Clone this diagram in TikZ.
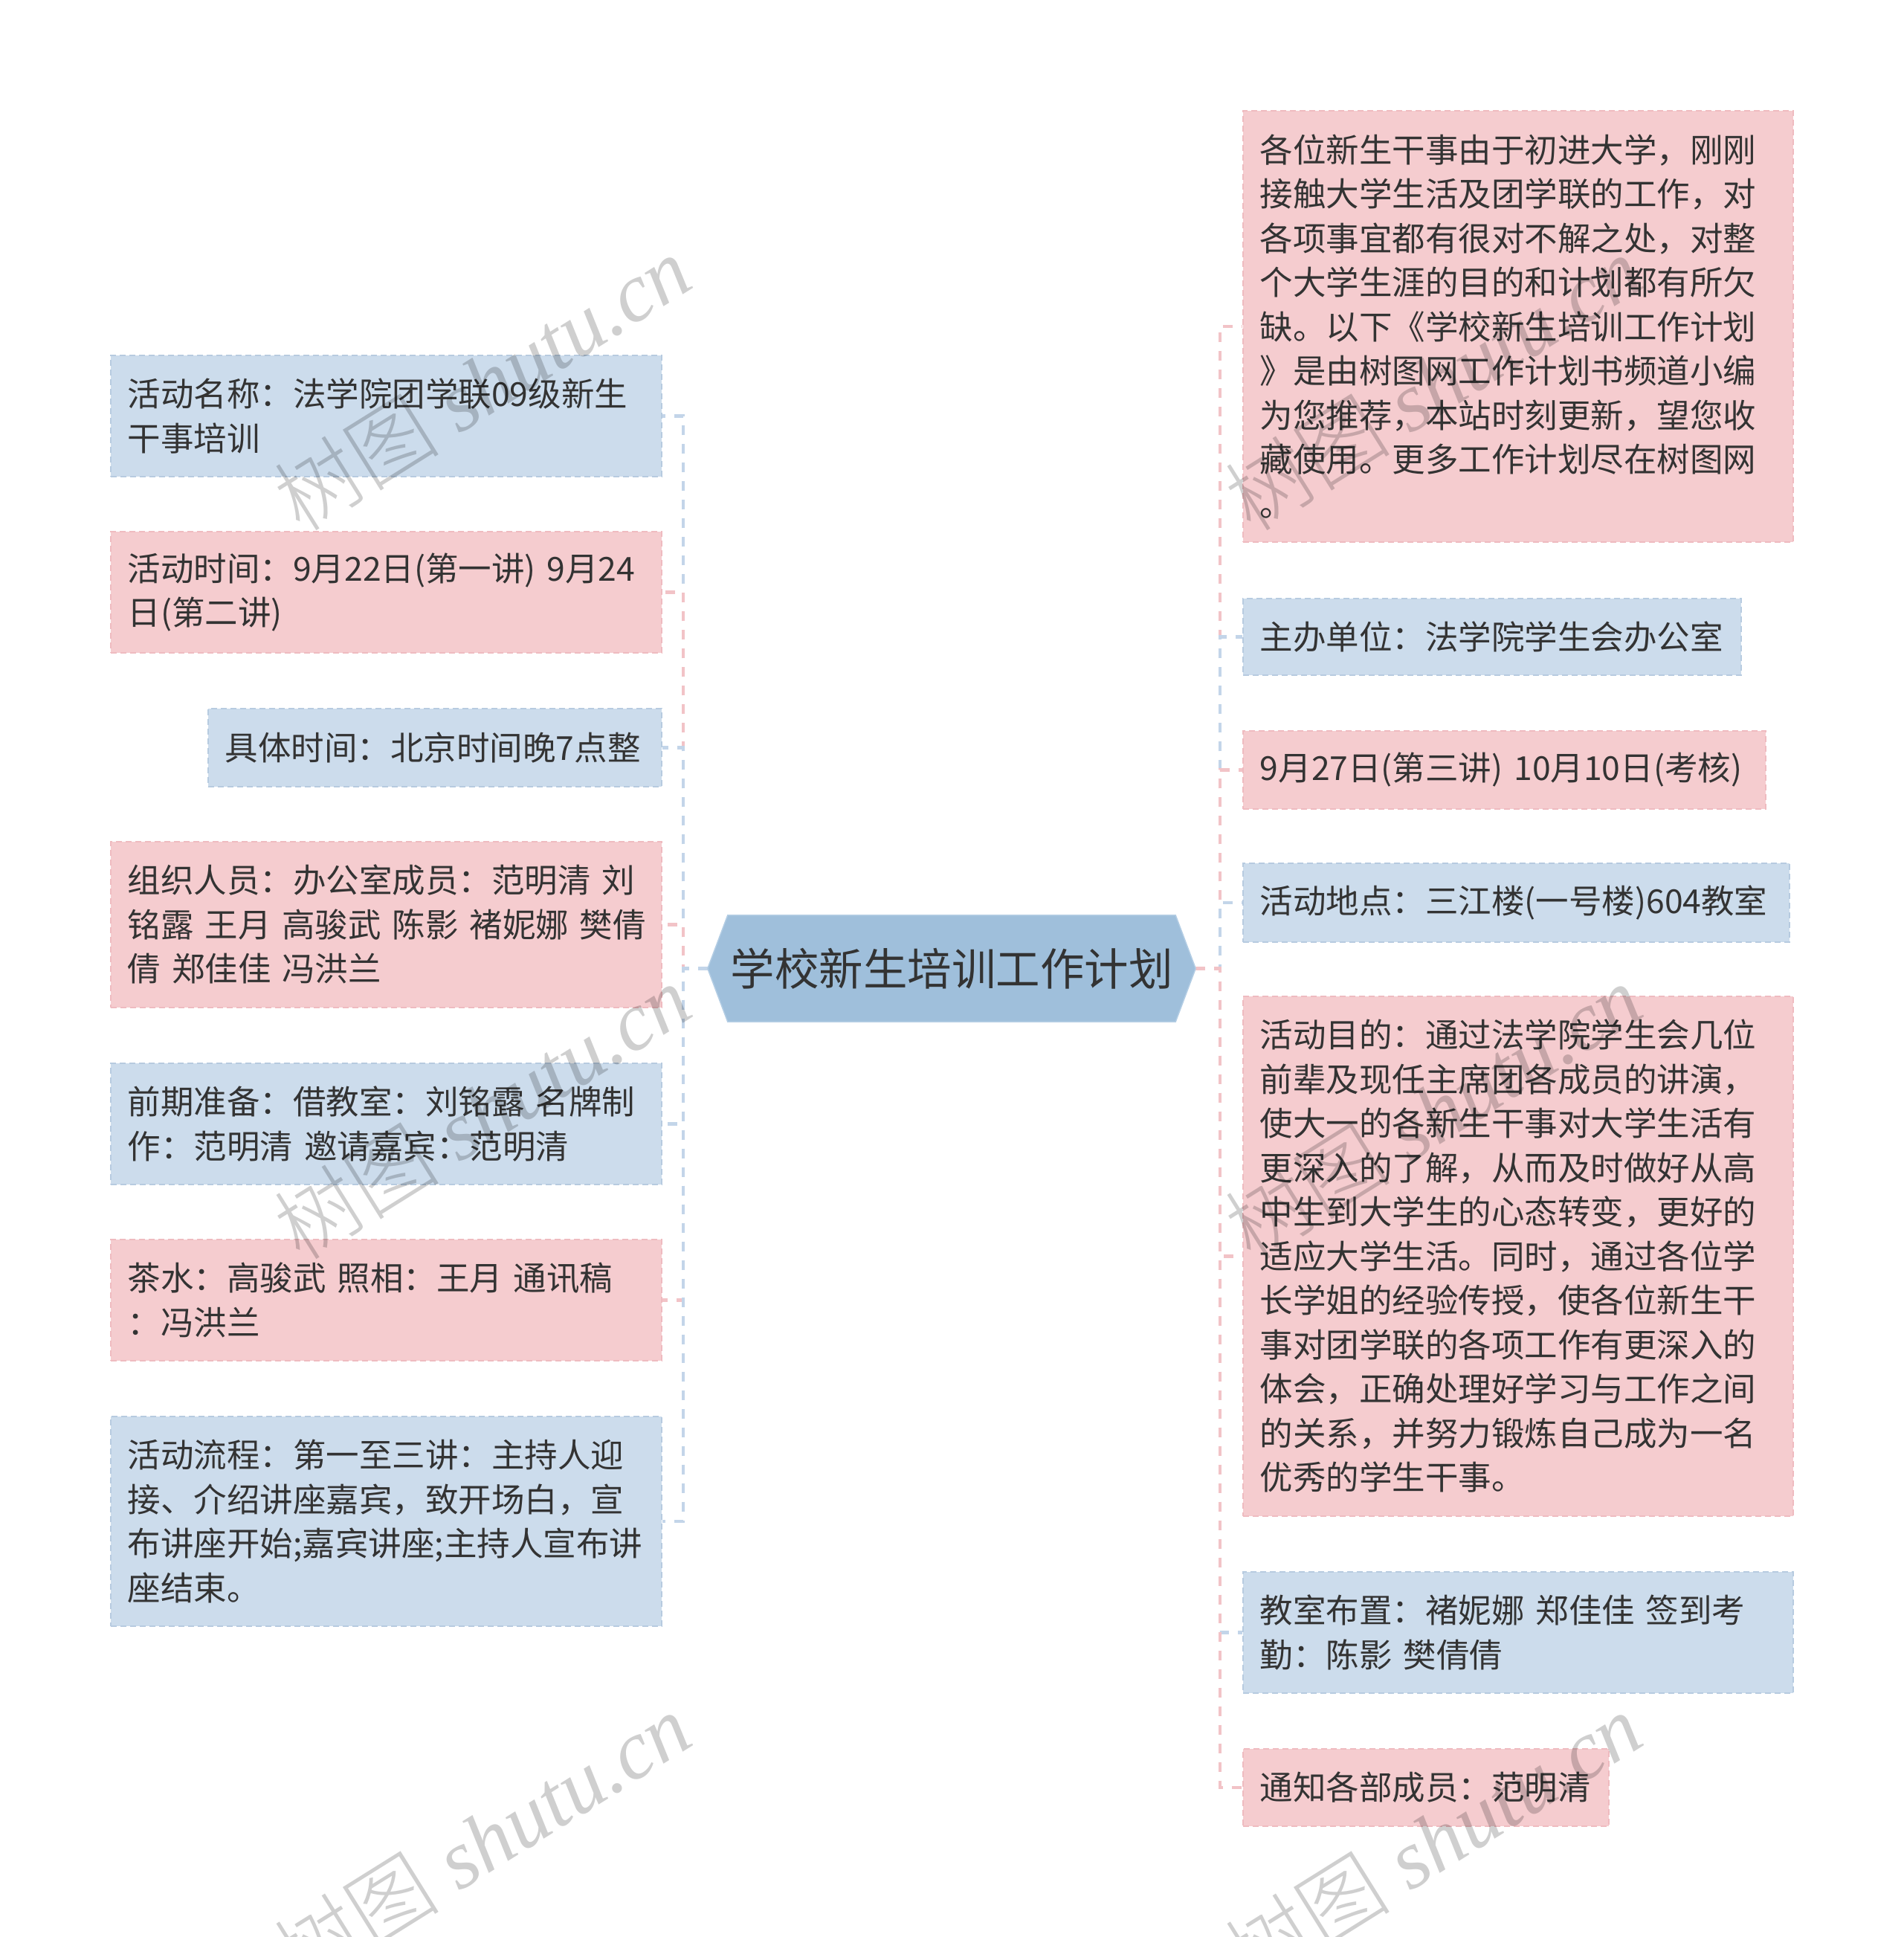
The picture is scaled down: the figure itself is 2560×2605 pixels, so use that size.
\documentclass[tikz,border=0pt]{standalone}
\usepackage{fontspec}
\setmainfont{Liberation Serif}
\newfontfamily\cjk{Noto Sans CJK SC}
\newfontfamily\cjklight{Noto Sans CJK SC Light}
\usetikzlibrary{backgrounds}
\definecolor{bluefill}{HTML}{CCDCEC}
\definecolor{blueline}{HTML}{B7CBE0}
\definecolor{pinkfill}{HTML}{F5CCCF}
\definecolor{pinkline}{HTML}{EFBBC0}
\definecolor{rootfill}{HTML}{9FBFDB}
\definecolor{rootline}{HTML}{B3CDE4}
\definecolor{txt}{HTML}{333333}
\definecolor{bconnc}{HTML}{C3D5E9}
\definecolor{pconnc}{HTML}{F2C3C7}
\begin{document}
\begin{tikzpicture}[x=1pt,y=-1pt,
  box/.style={anchor=north west, inner xsep=23pt, inner ysep=0pt, align=left,
    text=txt, font=\cjk\fontsize{44.5}{59.5}\selectfont,
    dash pattern=on 8pt off 5pt, line width=1.6pt},
  bbox/.style={box, fill=bluefill, draw=blueline},
  pbox/.style={box, fill=pinkfill, draw=pinkline},
  rootnode/.style={inner sep=0pt, minimum width=656pt, minimum height=143pt,
    text=txt, font=\cjk\fontsize{59.5}{59.5}\selectfont},
  conn/.style={line width=4.5pt, dash pattern=on 13pt off 12pt},
  bconn/.style={conn, draw=bconnc},
  pconn/.style={conn, draw=pconnc},
  wm/.style={text=black, opacity=0.19, rotate=32, font=\itshape\fontsize{112}{112}\selectfont}
]
\useasboundingbox (0,0) rectangle (2560,2605);

% root
\node[rootnode] (root) at (1280,1302.5) {学校新生培训工作计划};
\coordinate (ltrunk) at (919,1302.5);
\coordinate (rtrunk) at (1641,1302.5);

% left children
\node[bbox, text width=695pt, minimum height=163pt] (L1) at (148,477)
  {活动名称：法学院团学联09级新生\\干事培训};
\node[pbox, text width=695pt, minimum height=163pt] (L2) at (148,714)
  {活动时间：9月22日(第一讲)~9月24\\日(第二讲)};
\node[bbox, text width=564pt, minimum height=105pt] (L3) at (279,952)
  {具体时间：北京时间晚7点整};
\node[pbox, text width=695pt, minimum height=223pt] (L4) at (148,1131)
  {组织人员：办公室成员：范明清~刘\\铭露~王月~高骏武~陈影~褚妮娜~樊倩\\倩~郑佳佳~冯洪兰};
\node[bbox, text width=695pt, minimum height=163pt] (L5) at (148,1429)
  {前期准备：借教室：刘铭露~名牌制\\作：范明清~邀请嘉宾：范明清};
\node[pbox, text width=695pt, minimum height=163pt] (L6) at (148,1666)
  {茶水：高骏武~照相：王月~通讯稿\\：冯洪兰};
\node[bbox, text width=695pt, minimum height=282pt] (L7) at (148,1904)
  {活动流程：第一至三讲：主持人迎\\接、介绍讲座嘉宾，致开场白，宣\\布讲座开始;嘉宾讲座;主持人宣布讲\\座结束。};

% right children
\node[pbox, text width=694pt, minimum height=580pt] (R1) at (1671,148)
  {各位新生干事由于初进大学，刚刚\\接触大学生活及团学联的工作，对\\各项事宜都有很对不解之处，对整\\个大学生涯的目的和计划都有所欠\\缺。以下《学校新生培训工作计划\\》是由树图网工作计划书频道小编\\为您推荐，本站时刻更新，望您收\\藏使用。更多工作计划尽在树图网\\。};
\node[bbox, text width=624pt, minimum height=103pt] (R2) at (1671,804)
  {主办单位：法学院学生会办公室};
\node[pbox, text width=657pt, minimum height=105pt] (R3) at (1671,982)
  {9月27日(第三讲)~10月10日(考核)};
\node[bbox, text width=689pt, minimum height=106pt] (R4) at (1671,1160)
  {活动地点：三江楼(一号楼)604教室};
\node[pbox, text width=694pt, minimum height=699pt] (R5) at (1671,1339)
  {活动目的：通过法学院学生会几位\\前辈及现任主席团各成员的讲演，\\使大一的各新生干事对大学生活有\\更深入的了解，从而及时做好从高\\中生到大学生的心态转变，更好的\\适应大学生活。同时，通过各位学\\长学姐的经验传授，使各位新生干\\事对团学联的各项工作有更深入的\\体会，正确处理好学习与工作之间\\的关系，并努力锻炼自己成为一名\\优秀的学生干事。};
\node[bbox, text width=694pt, minimum height=163pt] (R6) at (1671,2113)
  {教室布置：褚妮娜~郑佳佳~签到考\\勤：陈影~樊倩倩};
\node[pbox, text width=446pt, minimum height=104pt] (R7) at (1671,2351)
  {通知各部成员：范明清};

\begin{pgfonlayer}{background}
  \draw[bconn] (root.west) -- (ltrunk) |- (L1.east);
  \draw[pconn] (root.west) -- (ltrunk) |- (L2.east);
  \draw[bconn] (root.west) -- (ltrunk) |- (L3.east);
  \draw[pconn] (root.west) -- (ltrunk) |- (L4.east);
  \draw[bconn] (root.west) -- (ltrunk) |- (L5.east);
  \draw[pconn] (root.west) -- (ltrunk) |- (L6.east);
  \draw[bconn] (root.west) -- (ltrunk) |- (L7.east);
  \draw[pconn] (root.east) -- (rtrunk) |- (R1.west);
  \draw[bconn] (root.east) -- (rtrunk) |- (R2.west);
  \draw[pconn] (root.east) -- (rtrunk) |- (R3.west);
  \draw[bconn] (root.east) -- (rtrunk) |- (R4.west);
  \draw[pconn] (root.east) -- (rtrunk) |- (R5.west);
  \draw[bconn] (root.east) -- (rtrunk) |- (R6.west);
  \draw[pconn] (root.east) -- (rtrunk) |- (R7.west);
  \filldraw[fill=rootfill, draw=rootline, line width=1.5pt]
    (root.west) -- ([xshift=27pt]root.north west) -- ([xshift=-27pt]root.north east)
    -- (root.east) -- ([xshift=-27pt]root.south east) -- ([xshift=27pt]root.south west) -- cycle;
\end{pgfonlayer}

% watermarks
\node[wm] (w1) at (648,515) {{\cjklight 树图} shutu.cn};
\node[wm] (w2) at (1927,515) {{\cjklight 树图} shutu.cn};
\node[wm] (w3) at (648,1495) {{\cjklight 树图} shutu.cn};
\node[wm] (w4) at (1927,1495) {{\cjklight 树图} shutu.cn};
\node[wm] (w5) at (648,2475) {{\cjklight 树图} shutu.cn};
\node[wm] (w6) at (1927,2475) {{\cjklight 树图} shutu.cn};
\end{tikzpicture}
\end{document}
